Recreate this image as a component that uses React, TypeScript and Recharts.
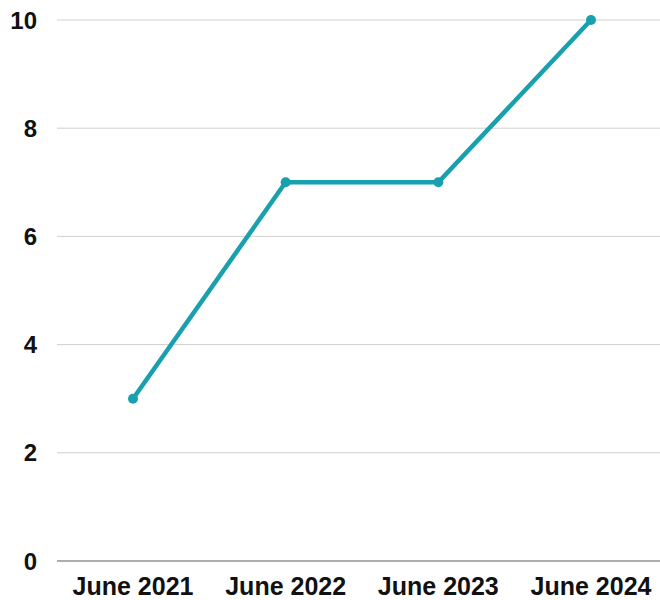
import React from 'react';
import { LineChart, Line, XAxis, YAxis, CartesianGrid } from 'recharts';

const periods = ['June 2021', 'June 2022', 'June 2023', 'June 2024'];
const counts = [3, 7, 7, 10];
const yTicks = [0, 2, 4, 6, 8, 10];

const data = periods.map((period, i) => ({ period, count: counts[i] }));

const TEAL = '#18a0ae';
const FONT = '"Liberation Sans", Arial, sans-serif';

export default function App() {
  const yTickStyle = { fill: '#111', fontSize: 24, fontWeight: 700, fontFamily: FONT };
  const xTickStyle = { ...yTickStyle, fontSize: 25 };

  return (
    <div style={{ position: 'fixed', left: 0, top: 0, width: 660, height: 600, overflow: 'hidden', background: '#fff' }}>
      <LineChart width={668} height={600} data={data} margin={{ top: 20, right: 1, bottom: 0, left: 0 }}>
        <CartesianGrid vertical={false} stroke="#cfcfcf" />
        <XAxis
          dataKey="period"
          height={39}
          padding={{ left: 76, right: 76 }}
          tickLine={false}
          tickMargin={10}
          axisLine={{ stroke: '#9a9a9a', strokeWidth: 1.5 }}
          tick={xTickStyle}
        />
        <YAxis
          width={57}
          domain={[0, 10]}
          ticks={yTicks}
          axisLine={false}
          tickLine={false}
          tickMargin={14}
          tick={yTickStyle}
        />
        <Line
          type="linear"
          dataKey="count"
          stroke={TEAL}
          strokeWidth={4.5}
          dot={{ r: 5, fill: TEAL, stroke: TEAL, strokeWidth: 0 }}
          isAnimationActive={false}
        />
      </LineChart>
    </div>
  );
}
